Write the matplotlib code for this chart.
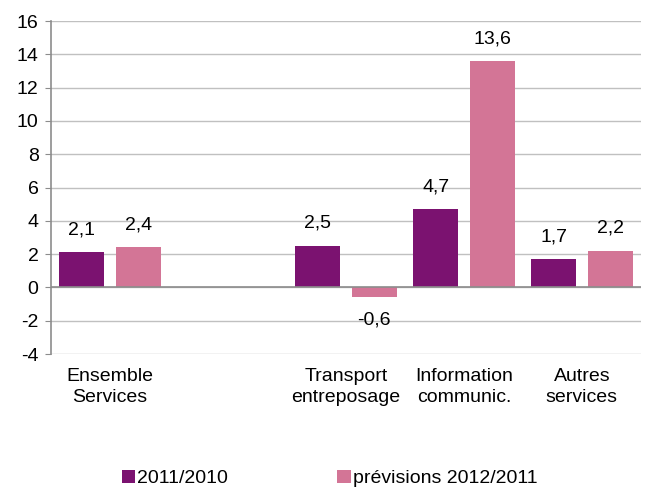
import numpy as np
import matplotlib
matplotlib.use("Agg")
import matplotlib.pyplot as plt

plt.rcParams['font.family'] = ['Liberation Sans', 'DejaVu Sans']
plt.rcParams['axes.unicode_minus'] = False

categories = ["Ensemble\nServices", "", "Transport\nentreposage",
              "Information\ncommunic.", "Autres\nservices"]
serie_2011 = [2.1, np.nan, 2.5, 4.7, 1.7]
serie_2012 = [2.4, np.nan, -0.6, 13.6, 2.2]
labels = ["2011/2010", "prévisions 2012/2011"]
colors = ["#7B1270", "#D37596"]

fs = 14

fig = plt.figure(figsize=(6.46, 4.91), dpi=100)
ax = fig.add_axes([0.079, 0.279, 0.913, 0.678])

x = np.arange(len(categories))
w = 0.38
off = 0.24
b1 = ax.bar(x - off, serie_2011, w, color=colors[0], label=labels[0], zorder=3)
b2 = ax.bar(x + off, serie_2012, w, color=colors[1], label=labels[1], zorder=3)

for bars, vals in [(b1, serie_2011), (b2, serie_2012)]:
    for rect, v in zip(bars, vals):
        if np.isnan(v):
            continue
        cx = rect.get_x() + rect.get_width() / 2
        dy = 10 if v >= 0 else -10
        ax.annotate(f"{v:.1f}".replace(".", ","), (cx, v), xytext=(0, dy),
                    textcoords="offset points", ha="center",
                    va="bottom" if v >= 0 else "top", fontsize=fs)

ax.set_xlim(-0.5, len(categories) - 0.5)
ax.set_ylim(-4, 16)
ax.set_yticks(np.arange(-4, 17, 2))
ax.set_xticks(x)
ax.set_xticklabels(categories, fontsize=fs, linespacing=1.3)
ax.tick_params(axis="x", length=0, pad=10)
ax.tick_params(axis="y", labelsize=fs, length=4, color="#8c8c8c", pad=5)
ax.grid(axis="y", color="#c0c0c0", linewidth=1, zorder=0)
ax.axhline(0, color="#8c8c8c", linewidth=1.2, zorder=4)
for s in ["top", "right", "bottom"]:
    ax.spines[s].set_visible(False)
ax.spines["left"].set_color("#8c8c8c")
ax.spines["left"].set_linewidth(1.2)

fig.legend(loc="lower center", bbox_to_anchor=(0.51, -0.028), ncol=2,
           frameon=False, fontsize=fs, handlelength=0.7, handleheight=0.7,
           handletextpad=0.1, columnspacing=5.6)

fig.savefig("out.png", dpi=100)
